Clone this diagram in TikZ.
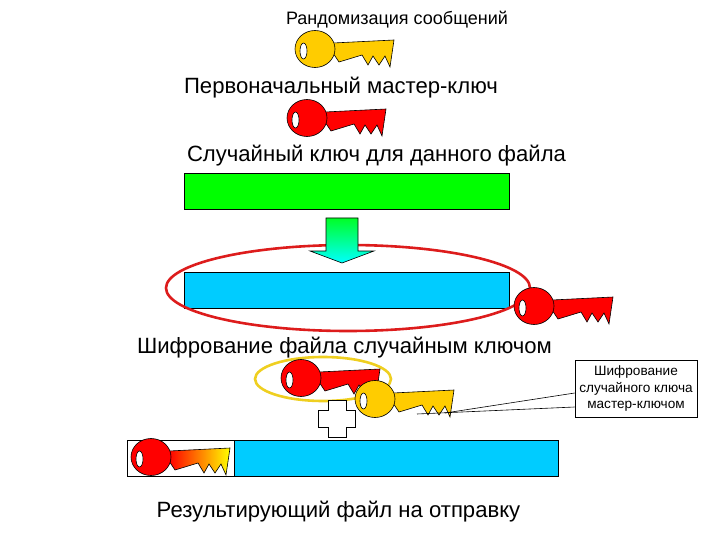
\documentclass[tikz,border=0pt]{standalone}
\usepackage{fontspec}
\setmainfont{Liberation Sans}
\definecolor{keygold}{HTML}{FFCC00}
\definecolor{keyred}{HTML}{FF0000}
\definecolor{barblue}{HTML}{00CCFF}
\definecolor{bargreen}{HTML}{00FF00}
\definecolor{ringred}{HTML}{DD1C1C}
\definecolor{ringgold}{HTML}{EFCF20}
\tikzset{
  keyline/.style={draw=black,line width=0.6pt},
  bar/.style={draw=black,line width=0.7pt,rectangle,minimum height=36pt,inner sep=0pt,anchor=north west},
  bigtext/.style={font=\fontsize{22.1}{22}\selectfont,inner sep=0pt},
  midtext/.style={font=\fontsize{18}{18}\selectfont,inner sep=0pt},
  note/.style={draw=black,fill=white,line width=0.6pt,font=\fontsize{13.6}{16.7}\selectfont,align=center,inner sep=0pt,minimum width=122pt,minimum height=57pt},
  ring/.style={line width=2.6pt},
  pics/thekey/.style args={#1/#2}{code={
    \path[keyline,#1] (18,-6) -- (79,-9) -- (75,18) -- (70,7) -- (64,16) -- (58,7) -- (53,16) -- (47,6) -- (24,13) -- (18,4) -- cycle;
    \path[keyline,fill=#2] (0,0) ellipse (20 and 18.5);
    \path[keyline,fill=white] (-11.5,2) ellipse (3.5 and 8);
  }},
}
\begin{document}
\begin{tikzpicture}[x=1pt,y=-1pt]
\useasboundingbox (0,0) rectangle (720,540);
% bars
\node[bar,fill=bargreen,minimum width=325pt] (green) at (184,173) {};
\node[bar,fill=barblue,minimum width=325pt] (blue) at (184,272) {};
\node[bar,fill=white,minimum width=107pt] (keybox) at (127,440) {};
\node[bar,fill=barblue,minimum width=324pt] (result) at (234,440) {};
% ring around the encrypted file
\draw[ring,draw=ringred] (348,288) ellipse (182 and 43);
% down arrow
\path[draw=black,line width=0.6pt,top color=green!85!cyan,bottom color=cyan]
  (326,218) -- (358,218) -- (358,251) -- (374,251) -- (342,263) -- (310,251) -- (326,251) -- cycle;
% keys
\pic at (315,49) {thekey={fill=keygold}/keygold};
\pic at (307,118) {thekey={fill=keyred}/keyred};
\pic at (534,306) {thekey={fill=keyred}/keyred};
\draw[ring,draw=ringgold] (323,379) ellipse (68 and 22);
\pic at (301,378) {thekey={fill=keyred}/keyred};
% plus
\path[draw=black,fill=white,line width=0.6pt]
  (328,400) -- (346,400) -- (346,410) -- (355,410) -- (355,427) -- (346,427) -- (346,437) -- (328,437) -- (328,427) -- (318,427) -- (318,410) -- (328,410) -- cycle;
\pic at (375,399) {thekey={fill=keygold}/keygold};
\begin{scope}[shift={(151,457)},yscale=0.8]
\pic {thekey={left color=red,right color=yellow}/keyred};
\end{scope}
% labels
\node[midtext] (t1) at (397,19.5) {Рандомизация сообщений};
\node[bigtext] (t2) at (341,88) {Первоначальный мастер-ключ};
\node[bigtext] (t3) at (376.5,156) {Случайный ключ для данного файла};
\node[bigtext] (t4) at (344.5,348) {Шифрование файла случайным ключом};
\node[bigtext] (t5) at (338.5,512) {Результирующий файл на отправку};
% callout
\node[note] (note) at (636,388.5) {Шифрование\\случайного ключа\\мастер-ключом};
\coordinate (n1) at (445,413);
\coordinate (n2) at (417,414);
\draw[line width=0.6pt] (note.west |- 0,393) -- (n1);
\draw[line width=0.6pt] (note.west |- 0,407) -- (n2);
\end{tikzpicture}
\end{document}
